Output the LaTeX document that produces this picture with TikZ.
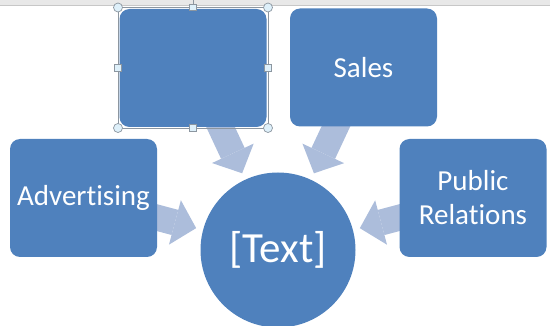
\documentclass[tikz,border=0pt]{standalone}
\usepackage{fontspec}
\setmainfont{Carlito}[Ligatures={NoCommon,NoRare,NoContextual}]
\usetikzlibrary{positioning,arrows.meta,backgrounds}
\definecolor{boxblue}{HTML}{4F81BD}
\definecolor{arrowblue}{RGB}{172,189,219}
\definecolor{handlegray}{RGB}{140,150,160}
\definecolor{handlefill}{RGB}{222,240,250}

\begin{document}
\begin{tikzpicture}[
  x=1pt, y=-1pt,
  topic/.style={
    rectangle,
    rounded corners=10pt,
    fill=boxblue,
    text=white,
    inner sep=0pt,
    minimum width=147pt,
    minimum height=118pt,
    align=center,
    font=\fontsize{29}{34}\selectfont
  },
  hub/.style={
    circle,
    fill=boxblue,
    text=white,
    inner sep=0pt,
    minimum size=155pt,
    font=\fontsize{43}{50}\selectfont
  },
  flow/.style={
    draw=arrowblue,
    line width=26pt,
    -{Triangle[length=22pt,width=46pt,line width=0pt]},
    shorten >=7pt
  },
  grip/.style={circle,draw=handlegray,fill=handlefill,inner sep=0pt,minimum size=9pt,line width=.7pt},
  knob/.style={rectangle,draw=handlegray,fill=handlefill,inner sep=0pt,minimum size=6.5pt,line width=.7pt}
]
  \useasboundingbox (0,0) rectangle (550,326);
  \clip (0,0) rectangle (550,326);

  % top bar of the window
  \fill[black!9] (0,0) rectangle (550,5.5);
  \draw[black!22,line width=.8pt] (0,5.5) -- (550,5.5);

  \node[topic] (blank) at (193,68) {};
  \node[topic] (sales) at (363.5,67.5) {Sales};
  \node[topic] (advert) at (83.5,198) {Advertising};
  \node[topic] (pubrel) at (473,198) {Public\\Relations};
  \node[hub] (text) at (278,250) {[Text]};

  \begin{scope}[on background layer]
    \draw[flow] (blank.center) -- (text);
    \draw[flow] (sales.center) -- (text);
    \draw[flow] (advert.center) -- (text);
    \draw[flow] (pubrel.center) -- (text);
  \end{scope}

  % selection frame
  \coordinate (selnw) at (118,7.5);
  \coordinate (selse) at (268,128);
  \draw[handlegray,line width=.7pt] (selnw) rectangle (selse);
  \draw[handlegray,line width=.7pt] (193,7.5) -- (193,0);
  \node[grip] (g1) at (selnw) {};
  \node[grip] (g2) at (selnw -| selse) {};
  \node[grip] (g3) at (selse) {};
  \node[grip] (g4) at (selse -| selnw) {};
  \node[knob] (k1) at (193,7.5) {};
  \node[knob] (k2) at (268,68) {};
  \node[knob] (k3) at (193,128) {};
  \node[knob] (k4) at (118,68) {};
\end{tikzpicture}
\end{document}
